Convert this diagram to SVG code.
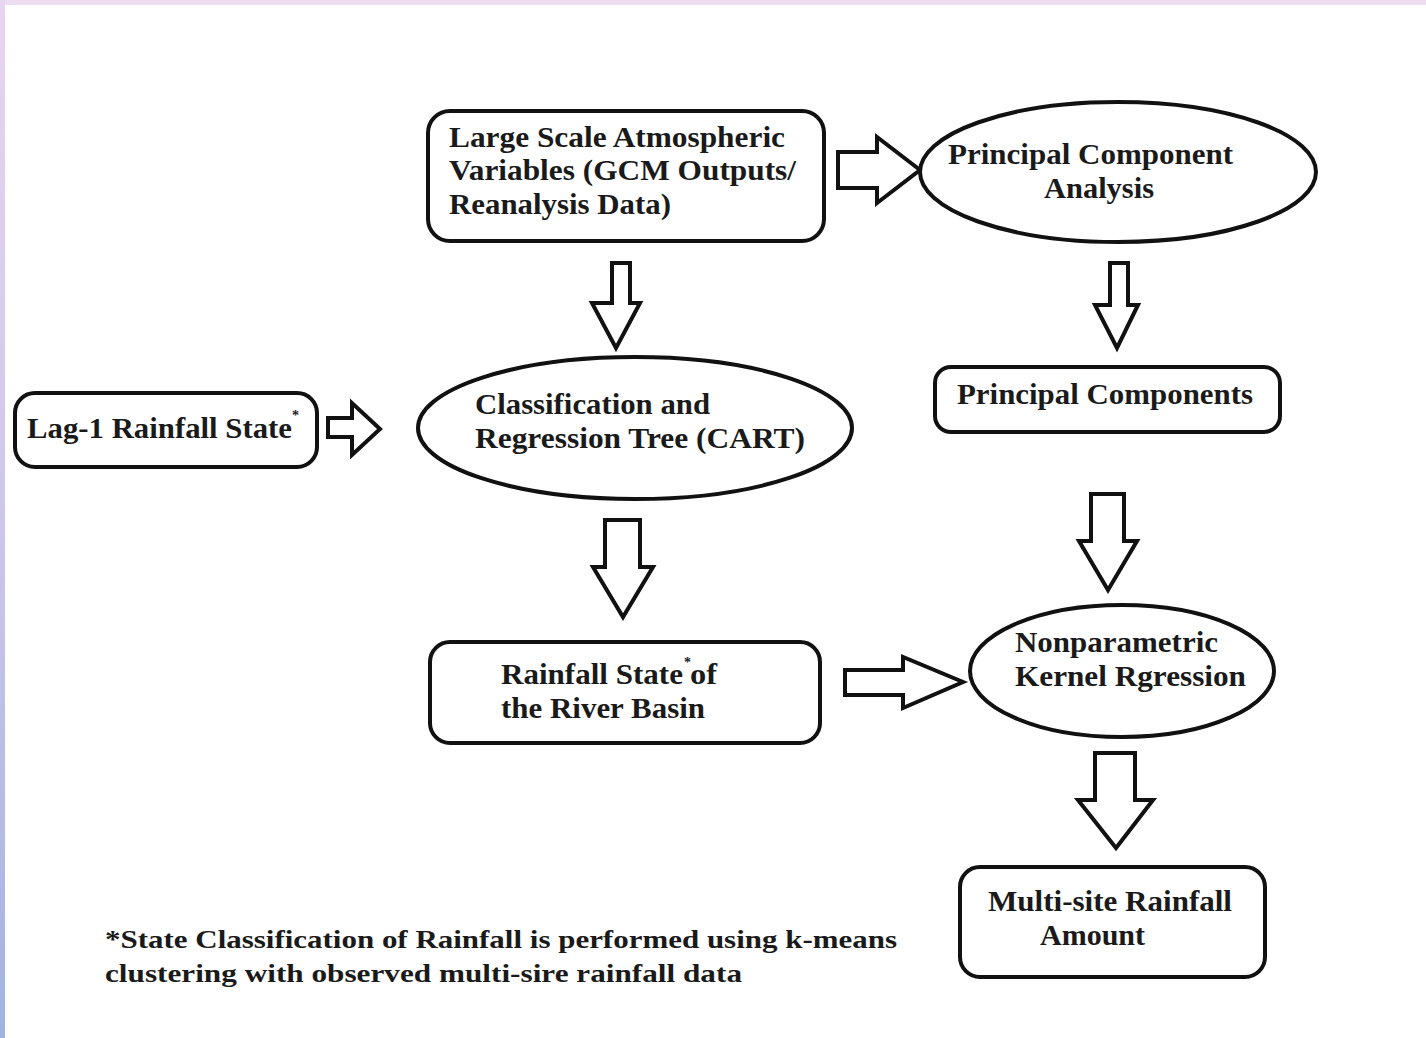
<svg xmlns="http://www.w3.org/2000/svg" width="1426" height="1038" viewBox="0 0 1426 1038">
  <defs>
    <linearGradient id="edgeLeft" x1="0" y1="0" x2="0" y2="1">
      <stop offset="0" stop-color="#e8d5f0"/>
      <stop offset="0.5" stop-color="#cfc6ec"/>
      <stop offset="1" stop-color="#a2b3e0"/>
    </linearGradient>
    <style>
      .shape { fill: #ffffff; stroke: #111111; stroke-width: 4; }
      .arrow { fill: #ffffff; stroke: #111111; stroke-width: 4; stroke-linejoin: miter; }
      .label { font-family: "Liberation Serif", "Times New Roman", serif; font-weight: bold; font-size: 30px; fill: #1a1a1a; }
      .sup { font-family: "Liberation Serif", "Times New Roman", serif; font-weight: bold; font-size: 14px; fill: #1a1a1a; }
      .note { font-family: "Liberation Serif", "Times New Roman", serif; font-weight: bold; font-size: 26px; fill: #1a1a1a; }
    </style>
  </defs>

  <!-- page background with tinted edges -->
  <rect x="0" y="0" width="1426" height="1038" fill="#ffffff"/>
  <rect x="0" y="0" width="1426" height="5" fill="#eddcf2"/>
  <rect x="0" y="0" width="5" height="1038" fill="url(#edgeLeft)"/>

  <!-- block-arrow connectors -->
  <g id="connectors">
    <!-- Large scale variables -> PCA -->
    <polygon class="arrow" points="838,152 877,152 877,137 920,170 877,203 877,188 838,188"/>
    <!-- Large scale variables -> CART -->
    <polygon class="arrow" points="612,263 630,263 630,303 640,303 616,348 592,303 612,303"/>
    <!-- PCA -> Principal Components -->
    <polygon class="arrow" points="1110,263 1128,263 1128,305 1138,305 1117,348 1095,305 1110,305"/>
    <!-- Lag-1 rainfall state -> CART -->
    <polygon class="arrow" points="328,418 352,418 352,403 380,429 352,455 352,437 328,437"/>
    <!-- CART -> Rainfall state -->
    <polygon class="arrow" points="605,520 640,520 640,567 653,567 623,617 593,567 605,567"/>
    <!-- Principal Components -> Kernel regression -->
    <polygon class="arrow" points="1091,494 1124,494 1124,541 1137,541 1108,590 1079,541 1091,541"/>
    <!-- Rainfall state -> Kernel regression -->
    <polygon class="arrow" points="845,670 903,670 903,657 963,682 903,708 903,695 845,695"/>
    <!-- Kernel regression -> Multi-site rainfall -->
    <polygon class="arrow" points="1095,753 1135,753 1135,800 1153,800 1116,848 1078,800 1095,800"/>
  </g>

  <g id="node-large-scale">
    <rect class="shape" x="428" y="111" width="396" height="130" rx="22" ry="22"/>
    <text class="label" x="449" y="147" textLength="336" lengthAdjust="spacingAndGlyphs">Large Scale Atmospheric</text>
    <text class="label" x="449" y="180" textLength="347" lengthAdjust="spacingAndGlyphs">Variables (GCM Outputs/</text>
    <text class="label" x="449" y="214" textLength="222" lengthAdjust="spacingAndGlyphs">Reanalysis Data)</text>
  </g>

  <g id="node-pca">
    <ellipse class="shape" cx="1118" cy="172" rx="198" ry="70"/>
    <text class="label" x="948" y="164" textLength="285" lengthAdjust="spacingAndGlyphs">Principal Component</text>
    <text class="label" x="1044" y="198" textLength="110" lengthAdjust="spacingAndGlyphs">Analysis</text>
  </g>

  <g id="node-principal-components">
    <rect class="shape" x="935" y="367" width="345" height="65" rx="16" ry="16"/>
    <text class="label" x="957" y="404" textLength="296" lengthAdjust="spacingAndGlyphs">Principal Components</text>
  </g>

  <g id="node-lag1">
    <rect class="shape" x="15" y="393" width="302" height="74" rx="20" ry="20"/>
    <text class="label" x="27" y="438" textLength="265" lengthAdjust="spacingAndGlyphs">Lag-1 Rainfall State</text>
    <text class="sup" x="292" y="420">*</text>
  </g>

  <g id="node-cart">
    <ellipse class="shape" cx="635" cy="428" rx="217" ry="71"/>
    <text class="label" x="475" y="414" textLength="235" lengthAdjust="spacingAndGlyphs">Classification and</text>
    <text class="label" x="475" y="448" textLength="330" lengthAdjust="spacingAndGlyphs">Regression Tree (CART)</text>
  </g>

  <g id="node-rainfall-state">
    <rect class="shape" x="430" y="642" width="390" height="101" rx="20" ry="20"/>
    <text class="label" x="501" y="684" textLength="182" lengthAdjust="spacingAndGlyphs">Rainfall State</text>
    <text class="sup" x="684" y="667">*</text>
    <text class="label" x="690" y="684" textLength="27" lengthAdjust="spacingAndGlyphs">of</text>
    <text class="label" x="501" y="718" textLength="204" lengthAdjust="spacingAndGlyphs">the River Basin</text>
  </g>

  <g id="node-kernel-regression">
    <ellipse class="shape" cx="1122" cy="671" rx="152" ry="66"/>
    <text class="label" x="1015" y="652" textLength="203" lengthAdjust="spacingAndGlyphs">Nonparametric</text>
    <text class="label" x="1015" y="686" textLength="231" lengthAdjust="spacingAndGlyphs">Kernel Rgression</text>
  </g>

  <g id="node-multi-site">
    <rect class="shape" x="960" y="867" width="305" height="110" rx="20" ry="20"/>
    <text class="label" x="988" y="911" textLength="244" lengthAdjust="spacingAndGlyphs">Multi-site Rainfall</text>
    <text class="label" x="1040" y="945" textLength="105" lengthAdjust="spacingAndGlyphs">Amount</text>
  </g>

  <g id="footnote">
    <text class="note" x="105" y="948" textLength="792" lengthAdjust="spacingAndGlyphs">*State Classification of Rainfall is performed using k-means</text>
    <text class="note" x="105" y="982" textLength="637" lengthAdjust="spacingAndGlyphs">clustering with observed multi-sire rainfall data</text>
  </g>
</svg>
